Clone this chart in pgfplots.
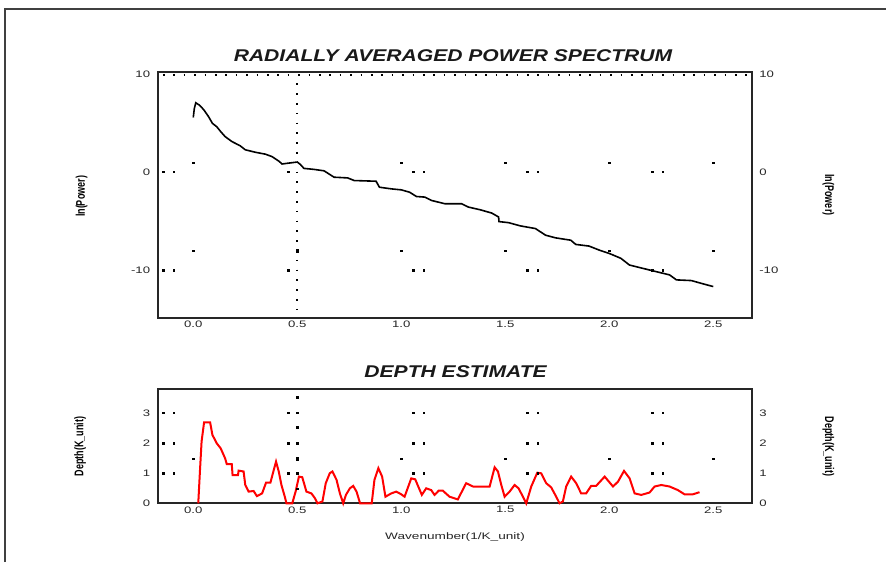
\documentclass[border=0pt]{standalone}
\usepackage{pgfplots}
\pgfplotsset{compat=1.18}
\usepackage{fontspec}
\setmainfont{Liberation Sans}
\usepackage{graphicx}
\newcommand\sx[1]{\scalebox{1.4}[1]{#1}}
\newcommand\sy[1]{\scalebox{1}[1.4]{#1}}
\begin{document}
\begin{tikzpicture}[x=1pt,y=1pt]
\useasboundingbox (0,0) rectangle (443,281);
\draw[line width=1pt, black!75] (2.5,0) -- (2.5,276.5) -- (443,276.5);

\pgfplotsset{
  common/.style={scale only axis, anchor=south west, width=297pt,
    xmin=-0.171, xmax=2.685,
    xtick={0,0.5,1,1.5,2,2.5},
    xticklabels={\sx{0.0},\sx{0.5},\sx{1.0},\sx{1.5},\sx{2.0},\sx{2.5}},
    major tick length=0pt, minor tick length=0pt,
    tick label style={font=\fontsize{4.7}{5}\selectfont, black!85, inner sep=0pt},
    xticklabel shift=1.4pt, yticklabel shift=3.6pt,
    axis line style={line width=1pt, black!85},
    clip=false},
  dots/.style={only marks, mark=square*, mark size=0.35pt, black}
}

% ---------------- upper axis ----------------
\begin{axis}[common, at={(78.85pt,122.15pt)}, height=123pt,
  ymin=-14.84, ymax=10.27,
  ytick={-10,0,10}, yticklabels={\sx{-10},\sx{0},\sx{10}}]
\addplot[black, line width=0.8pt] coordinates {
(0.000,5.6) (0.005,6.5) (0.012,7.1) (0.030,6.85) (0.050,6.4) (0.073,5.7)
(0.092,5.0) (0.113,4.65) (0.132,4.15) (0.153,3.65) (0.185,3.15) (0.226,2.7)
(0.250,2.3) (0.298,2.05) (0.347,1.85) (0.379,1.6) (0.411,1.15) (0.427,0.85)
(0.452,0.92) (0.500,1.05) (0.515,0.8) (0.532,0.4) (0.580,0.3) (0.629,0.15)
(0.677,-0.5) (0.742,-0.57) (0.774,-0.84) (0.879,-0.91) (0.895,-1.52)
(0.952,-1.69) (1.000,-1.79) (1.040,-2.03) (1.073,-2.47) (1.113,-2.53)
(1.145,-2.87) (1.210,-3.21) (1.290,-3.21) (1.323,-3.55) (1.379,-3.82)
(1.435,-4.16) (1.468,-4.56) (1.470,-5.03) (1.516,-5.14) (1.573,-5.47)
(1.645,-5.74) (1.694,-6.42) (1.742,-6.69) (1.815,-6.93) (1.839,-7.36)
(1.903,-7.53) (1.952,-7.94) (2.000,-8.28) (2.056,-8.78) (2.097,-9.46)
(2.161,-9.8) (2.226,-10.14) (2.290,-10.47) (2.323,-10.98) (2.395,-11.05)
(2.452,-11.39) (2.500,-11.66)};
% dotted artefacts
\addplot[black, line width=0.8pt, dash pattern=on 0.8pt off 4.4pt] coordinates {(-0.146,9.93) (2.67,9.93)};
\addplot[black, line width=0.8pt, dash pattern=on 0.8pt off 4.1pt] coordinates {(0.5,9.08) (0.5,-14.1)};
\addplot[dots] coordinates {
(0,0.98) (1.0,0.98) (1.5,0.98) (2.0,0.98) (2.5,0.98)
(-0.144,0.05) (-0.093,0.05) (0.457,0.05) (1.058,0.05) (1.109,0.05) (1.606,0.05) (1.657,0.05) (2.207,0.05) (2.258,0.05)
(0,-8.03) (1.0,-8.03) (1.5,-8.03) (2.0,-8.03) (2.5,-8.03)
(-0.144,-10) (-0.093,-10) (0.457,-10) (1.058,-10) (1.109,-10) (1.606,-10) (1.657,-10) (2.207,-10) (2.258,-10)};
\addplot[only marks, mark=square*, mark size=0.6pt, black] coordinates {(0.5,-8.03)};
\end{axis}
\begin{axis}[common, at={(78.85pt,122.15pt)}, height=123pt,
  ymin=-14.84, ymax=10.27, axis line style={draw=none},
  xticklabels={}, yticklabel pos=right,
  ytick={-10,0,10}, yticklabels={\sx{-10},\sx{0},\sx{10}}]
\end{axis}

% ---------------- lower axis ----------------
\begin{axis}[common, at={(78.85pt,29.35pt)}, height=57.15pt,
  ymin=0, ymax=3.81,
  ytick={0,1,2,3}, yticklabels={\sx{0},\sx{1},\sx{2},\sx{3}}]
\addplot[red, line width=1pt] coordinates {
(0.024,0) (0.032,1.06) (0.040,2.06) (0.052,2.7) (0.081,2.7) (0.092,2.28)
(0.113,2.0) (0.132,1.83) (0.153,1.5) (0.161,1.31) (0.185,1.31) (0.189,0.94)
(0.215,0.94) (0.218,1.09) (0.242,1.06) (0.250,0.61) (0.266,0.39) (0.290,0.41)
(0.306,0.24) (0.331,0.33) (0.350,0.69) (0.371,0.69) (0.387,1.11) (0.398,1.39)
(0.411,1.06) (0.424,0.61) (0.440,0.22) (0.448,0) (0.476,0) (0.492,0.39)
(0.508,0.89) (0.524,0.87) (0.544,0.39) (0.568,0.33) (0.585,0.17) (0.597,0)
(0.621,0.06) (0.637,0.67) (0.656,1.0) (0.669,1.06) (0.689,0.78) (0.705,0.33)
(0.721,0) (0.734,0.28) (0.753,0.5) (0.769,0.58) (0.785,0.39) (0.802,0)
(0.858,0) (0.871,0.78) (0.890,1.17) (0.908,0.89) (0.924,0.22) (0.952,0.33)
(0.976,0.39) (1.000,0.30) (1.016,0.22) (1.048,0.83) (1.067,0.80) (1.099,0.28)
(1.120,0.50) (1.144,0.44) (1.160,0.28) (1.180,0.42) (1.200,0.42) (1.232,0.22)
(1.272,0.13) (1.312,0.67) (1.345,0.56) (1.425,0.56) (1.449,1.20) (1.465,1.06)
(1.481,0.61) (1.497,0.22) (1.521,0.39) (1.545,0.61) (1.564,0.50) (1.585,0.22)
(1.601,0) (1.625,0.56) (1.654,1.02) (1.673,1.00) (1.697,0.67) (1.721,0.53)
(1.745,0.22) (1.761,0) (1.777,0.06) (1.793,0.56) (1.817,0.89) (1.841,0.67)
(1.865,0.33) (1.889,0.33) (1.913,0.58) (1.937,0.58) (1.978,0.89) (2.018,0.56)
(2.042,0.72) (2.071,1.08) (2.098,0.83) (2.122,0.33) (2.154,0.28) (2.194,0.36)
(2.218,0.56) (2.250,0.61) (2.290,0.56) (2.330,0.44) (2.362,0.30) (2.402,0.30)
(2.434,0.37)};
\addplot[dots] coordinates {
(-0.144,3.02) (-0.093,3.02) (0.457,3.02) (1.058,3.02) (1.109,3.02) (1.606,3.02) (1.657,3.02) (2.207,3.02) (2.258,3.02)
(-0.144,2.0) (-0.093,2.0) (0.457,2.0) (1.058,2.0) (1.109,2.0) (1.606,2.0) (1.657,2.0) (2.207,2.0) (2.258,2.0)
(-0.144,1.0) (-0.093,1.0) (0.457,1.0) (1.058,1.0) (1.109,1.0) (1.606,1.0) (1.657,1.0) (2.207,1.0) (2.258,1.0)
(0,1.48) (1.0,1.48) (1.5,1.48) (2.0,1.48) (2.5,1.48)
(0.5,3.53) (0.5,3.02) (0.5,2.53) (0.5,2.0) (0.5,1.0) (0.5,0.48)};
\addplot[only marks, mark=square*, mark size=0.6pt, black] coordinates {(0.5,1.48)};
\end{axis}
\begin{axis}[common, at={(78.85pt,29.35pt)}, height=57.15pt,
  ymin=0, ymax=3.81, axis line style={draw=none},
  xticklabels={}, yticklabel pos=right,
  ytick={0,1,2,3}, yticklabels={\sx{0},\sx{1},\sx{2},\sx{3}}]
\end{axis}

% ---------------- titles and labels ----------------
\node[anchor=base, font=\fontsize{8.5}{10}\selectfont\bfseries\itshape, text=black!90, inner sep=0pt]
  at (226.5,250.2) {\scalebox{1.24}[1]{RADIALLY AVERAGED POWER SPECTRUM}};
\node[anchor=base, font=\fontsize{8.5}{10}\selectfont\bfseries\itshape, text=black!90, inner sep=0pt]
  at (227.8,92.2) {\scalebox{1.24}[1]{DEPTH ESTIMATE}};
\node[anchor=base, font=\fontsize{4.7}{5}\selectfont, text=black!85, inner sep=0pt]
  at (227.5,11.3) {\scalebox{1.45}[1]{Wavenumber(1/K\_unit)}};
\node[rotate=90, font=\fontsize{4.5}{5}\selectfont\bfseries, inner sep=0pt] at (40.75,182.75) {\sy{ln(Power)}};
\node[rotate=-90, font=\fontsize{4.5}{5}\selectfont\bfseries, inner sep=0pt] at (414.2,183.5) {\sy{ln(Power)}};
\node[rotate=90, font=\fontsize{4.5}{5}\selectfont\bfseries, inner sep=0pt] at (40,57.7) {\sy{Depth(K\_unit)}};
\node[rotate=-90, font=\fontsize{4.5}{5}\selectfont\bfseries, inner sep=0pt] at (414.2,57.7) {\sy{Depth(K\_unit)}};
\end{tikzpicture}
\end{document}
